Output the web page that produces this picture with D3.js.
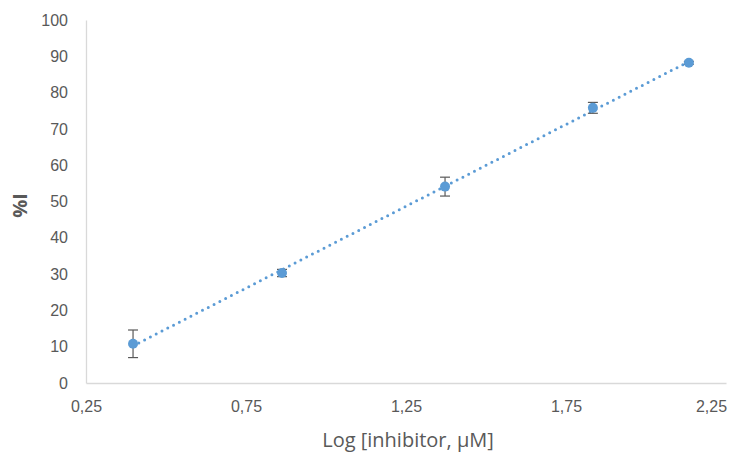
<!DOCTYPE html>
<html>
<head>
<meta charset="utf-8">
<script src="https://cdn.jsdelivr.net/npm/d3@7/dist/d3.min.js"></script>
<style>
  html, body { margin: 0; padding: 0; background: #fff; }
  svg { display: block; font-family: "Open Sans", "Noto Sans", sans-serif; }
</style>
</head>
<body>
<svg id="chart" width="731" height="456"></svg>
<script>
const logConc = [0.397, 0.8625, 1.372, 1.834, 2.134];
const inhibition = [10.8, 30.3, 54.1, 75.8, 88.2];
const errors = [3.8, 1.0, 2.6, 1.5, 0.4];
const xTicks = [0.25, 0.75, 1.25, 1.75, 2.25];
const yTicks = [0, 10, 20, 30, 40, 50, 60, 70, 80, 90, 100];
const xTitle = "Log [inhibitor, µM]";
const yTitle = "%I";

const svg = d3.select("#chart");
const mLeft = 86, mRight = 726, mTop = 20, mBottom = 383;

const x = d3.scaleLinear().domain([0.25, 2.25]).range([mLeft, mRight]);
const y = d3.scaleLinear().domain([0, 100]).range([mBottom, mTop]);

const textColor = "#595959";
const axisColor = "#D9D9D9";
const seriesColor = "#5B9BD5";

// Y axis
const yAxis = svg.append("g").attr("transform", `translate(${mLeft},0)`)
  .call(d3.axisLeft(y).tickValues(yTicks).tickSize(0).tickPadding(18).tickFormat(d3.format("d")));
yAxis.select(".domain").attr("stroke", axisColor).attr("stroke-width", 1.3);
yAxis.selectAll("text").attr("fill", textColor).attr("font-size", 16);

// X axis
const xAxis = svg.append("g").attr("transform", `translate(0,${mBottom})`)
  .call(d3.axisBottom(x).tickValues(xTicks).tickSize(0).tickPadding(18)
    .tickFormat(d => d3.format(".2f")(d).replace(".", ",")));
xAxis.select(".domain").attr("stroke", axisColor).attr("stroke-width", 1.3);
xAxis.selectAll("text").attr("fill", textColor).attr("font-size", 16)
  .attr("dx", (d, i) => i === xTicks.length - 1 ? -15 : 0);

// Axis titles
svg.append("text").attr("x", 408).attr("y", 447).attr("text-anchor", "middle")
  .attr("fill", textColor).attr("font-size", 20).text(xTitle);
svg.append("text").attr("transform", `translate(27,${(mTop + mBottom) / 2 + 4}) rotate(-90)`)
  .attr("text-anchor", "middle").attr("fill", textColor).attr("font-size", 20)
  .attr("font-weight", "bold").text(yTitle);

// Linear trendline (least squares on the data)
const mx = d3.mean(logConc), my = d3.mean(inhibition);
const slope = d3.sum(logConc.map((v, i) => (v - mx) * (inhibition[i] - my))) /
              d3.sum(logConc.map(v => (v - mx) ** 2));
const icpt = my - slope * mx;
const x0 = d3.min(logConc), x1 = d3.max(logConc);
svg.append("line")
  .attr("x1", x(x0)).attr("y1", y(icpt + slope * x0))
  .attr("x2", x(x1)).attr("y2", y(icpt + slope * x1))
  .attr("stroke", seriesColor).attr("stroke-width", 3)
  .attr("stroke-linecap", "round").attr("stroke-dasharray", "0,6.5");

// Error bars
const eb = svg.append("g").attr("stroke", textColor).attr("stroke-width", 1.2);
logConc.forEach((v, i) => {
  const cx = x(v), yt = y(inhibition[i] + errors[i]), yb = y(inhibition[i] - errors[i]);
  eb.append("line").attr("x1", cx).attr("x2", cx).attr("y1", yt).attr("y2", yb);
  eb.append("line").attr("x1", cx - 5).attr("x2", cx + 5).attr("y1", yt).attr("y2", yt);
  eb.append("line").attr("x1", cx - 5).attr("x2", cx + 5).attr("y1", yb).attr("y2", yb);
});

// Markers
svg.append("g").selectAll("circle").data(logConc).join("circle")
  .attr("cx", d => x(d)).attr("cy", (d, i) => y(inhibition[i]))
  .attr("r", 5).attr("fill", seriesColor);
</script>
</body>
</html>
